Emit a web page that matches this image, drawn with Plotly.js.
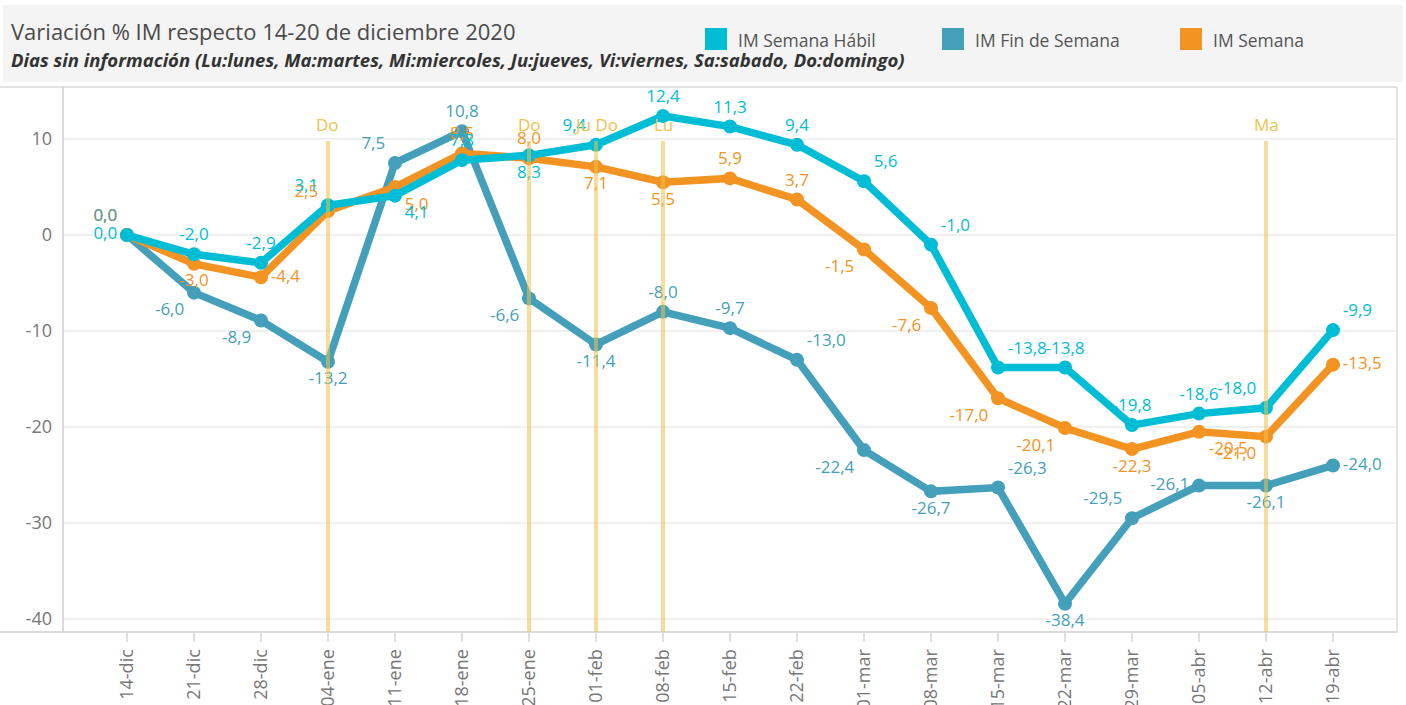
<!DOCTYPE html>
<html>
<head>
<meta charset="utf-8">
<script src="https://cdn.plot.ly/plotly-3.0.1.min.js"></script>
<style>
  html, body { margin: 0; padding: 0; background: #ffffff; }
  #chart { width: 1406px; height: 705px; }
</style>
</head>
<body>
<div id="chart"></div>
<script>
// ---- data ----
const weeks = ['14-dic','21-dic','28-dic','04-ene','11-ene','18-ene','25-ene','01-feb','08-feb','15-feb','22-feb','01-mar','08-mar','15-mar','22-mar','29-mar','05-abr','12-abr','19-abr'];
const imSemanaHabil = [0.0,-2.0,-2.9,3.1,4.1,7.8,8.3,9.4,12.4,11.3,9.4,5.6,-1.0,-13.8,-13.8,-19.8,-18.6,-18.0,-9.9];
const imFinDeSemana = [0.0,-6.0,-8.9,-13.2,7.5,10.8,-6.6,-11.4,-8.0,-9.7,-13.0,-22.4,-26.7,-26.3,-38.4,-29.5,-26.1,-26.1,-24.0];
const imSemana = [0.0,-3.0,-4.4,2.5,5.0,8.5,8.0,7.1,5.5,5.9,3.7,-1.5,-7.6,-17.0,-20.1,-22.3,-20.5,-21.0,-13.5];
const noInfoWeeks = ['04-ene','25-ene','01-feb','08-feb','12-abr'];
const noInfoLabels = ['Do','Do','Ju Do','Lu','Ma'];
const seriesNames = ['IM Semana Hábil','IM Fin de Semana','IM Semana'];
const yTicks = [10,0,-10,-20,-30,-40];

// ---- styles ----
const C_HABIL = '#00BDD6';
const C_FIN = '#449FBA';
const C_SEM = '#F39322';
const C_GOLD = '#EFC24A';
const FONT = '"Open Sans", Roboto, sans-serif';

const posHabil = ['middle left','top center','top center','top left','bottom right','top center','bottom center','top left','top center','top center','top center','top right','top right','top right','top center','top center','top center','top left','top right'];
const posFin = ['top left','bottom left','bottom left','bottom center','top left','top center','bottom left','bottom center','top center','top center','top right','bottom left','bottom center','top right','bottom center','top left','middle left','bottom center','middle right'];
const posSem = ['top left','bottom center','middle right','top left','bottom right','top center','top center','bottom center','bottom center','top center','top center','bottom left','bottom left','bottom left','bottom left','bottom center','bottom right','bottom left','middle right'];

const fmt = v => v.toFixed(1).replace('.', ',');
const colorArr = (vals, c, first) => vals.map((v, i) => i === 0 ? first : c);

function lineTrace(name, vals, color, pos, textColors) {
  return {
    type: 'scatter', mode: 'lines+markers+text', name: name,
    x: weeks, y: vals,
    text: vals.map(fmt), textposition: pos,
    textfont: { family: FONT, size: 17, color: textColors },
    line: { color: color, width: 7.5 },
    marker: { color: color, size: 14 },
    cliponaxis: false, showlegend: false, hoverinfo: 'x+y+name'
  };
}

const traces = [
  lineTrace(seriesNames[1], imFinDeSemana, C_FIN, posFin, colorArr(imFinDeSemana, C_FIN, '#6C9B8D')),
  lineTrace(seriesNames[2], imSemana, C_SEM, posSem, colorArr(imSemana, C_SEM, '#6C9B8D')),
  lineTrace(seriesNames[0], imSemanaHabil, C_HABIL, posHabil, colorArr(imSemanaHabil, C_HABIL, C_HABIL))
];

// pixel -> paper helpers (plot area: x 63..1397, y 87..632)
const L = 63, R = 1397, T = 87, B = 632;
const px = X => (X - L) / (R - L);
const py = Y => (B - Y) / (B - T);

const shapes = [
  // header band
  { type: 'rect', xref: 'paper', yref: 'paper', x0: px(3), x1: px(1403), y0: py(82), y1: py(5), fillcolor: '#F4F4F4', line: { width: 0 }, layer: 'below' },
  // frame
  { type: 'line', xref: 'paper', yref: 'paper', x0: px(0), x1: 1, y0: 1, y1: 1, line: { color: '#D9D9D9', width: 1.5 } },
  { type: 'line', xref: 'paper', yref: 'paper', x0: 1, x1: 1, y0: 0, y1: 1, line: { color: '#D9D9D9', width: 1.5 } },
  { type: 'line', xref: 'paper', yref: 'paper', x0: 0, x1: 0, y0: 0, y1: 1, line: { color: '#CFCFCF', width: 1.5 } },
  { type: 'line', xref: 'paper', yref: 'paper', x0: px(0), x1: 1, y0: 0, y1: 0, line: { color: '#CFCFCF', width: 1.5 } },
  // zero line dotted
  { type: 'line', xref: 'paper', yref: 'y', x0: 0, x1: 1, y0: 0, y1: 0, line: { color: '#BDBDBD', width: 1.5, dash: 'dot' }, layer: 'below' }
];
noInfoWeeks.forEach(w => {
  shapes.push({ type: 'line', xref: 'x', yref: 'y', x0: w, x1: w, y0: -41.35, y1: 9.8, line: { color: C_GOLD, width: 4 }, opacity: 0.55, layer: 'above' });
});

const annotations = [
  { xref: 'paper', yref: 'paper', x: px(9), y: py(31), xanchor: 'left', yanchor: 'middle', showarrow: false,
    text: 'Variación % IM respecto 14-20 de diciembre 2020', font: { family: FONT, size: 22, color: '#4A4A4A' } },
  { xref: 'paper', yref: 'paper', x: px(9), y: py(60), xanchor: 'left', yanchor: 'middle', showarrow: false,
    text: '<b><i>Dias sin información (Lu:lunes, Ma:martes, Mi:miercoles, Ju:jueves, Vi:viernes, Sa:sabado, Do:domingo)</i></b>',
    font: { family: FONT, size: 18.5, color: '#333333' } }
];
noInfoWeeks.forEach((w, i) => {
  annotations.push({ xref: 'x', yref: 'y', x: w, y: 11.5, xanchor: 'center', yanchor: 'middle', showarrow: false,
    text: noInfoLabels[i], font: { family: FONT, size: 17, color: C_GOLD } });
});
// custom legend in header
const legendColors = [C_HABIL, C_FIN, C_SEM];
const legendX = [705, 942, 1180];
seriesNames.forEach((n, i) => {
  shapes.push({ type: 'rect', xref: 'paper', yref: 'paper', x0: px(legendX[i]), x1: px(legendX[i] + 22), y0: py(50), y1: py(28), fillcolor: legendColors[i], line: { width: 0 } });
  annotations.push({ xref: 'paper', yref: 'paper', x: px(legendX[i] + 31), y: py(40), xanchor: 'left', yanchor: 'middle', showarrow: false,
    text: n, font: { family: FONT, size: 17.5, color: '#555555' } });
});

const layout = {
  width: 1406, height: 705,
  margin: { l: L, r: 1406 - R, t: T, b: 705 - B, pad: 0 },
  paper_bgcolor: '#FFFFFF', plot_bgcolor: '#FFFFFF',
  showlegend: false,
  xaxis: {
    type: 'category', range: [-0.955, 18.955], showgrid: false, zeroline: false, showline: false,
    ticks: 'outside', ticklen: 9, tickcolor: '#E0E0E0', tickwidth: 1.5,
    tickangle: -90, tickfont: { family: FONT, size: 18, color: '#777777' }, fixedrange: true
  },
  yaxis: {
    range: [-41.35, 15.42], tickvals: yTicks, ticktext: yTicks.map(String),
    showgrid: true, gridcolor: '#F0F0F0', gridwidth: 1.5, zeroline: false, showline: false,
    ticks: '', ticklabelstandoff: 10, tickfont: { family: FONT, size: 18, color: '#777777' }, fixedrange: true
  },
  shapes: shapes,
  annotations: annotations
};

Plotly.newPlot('chart', traces, layout, { displayModeBar: false, staticPlot: true });
</script>
</body>
</html>
